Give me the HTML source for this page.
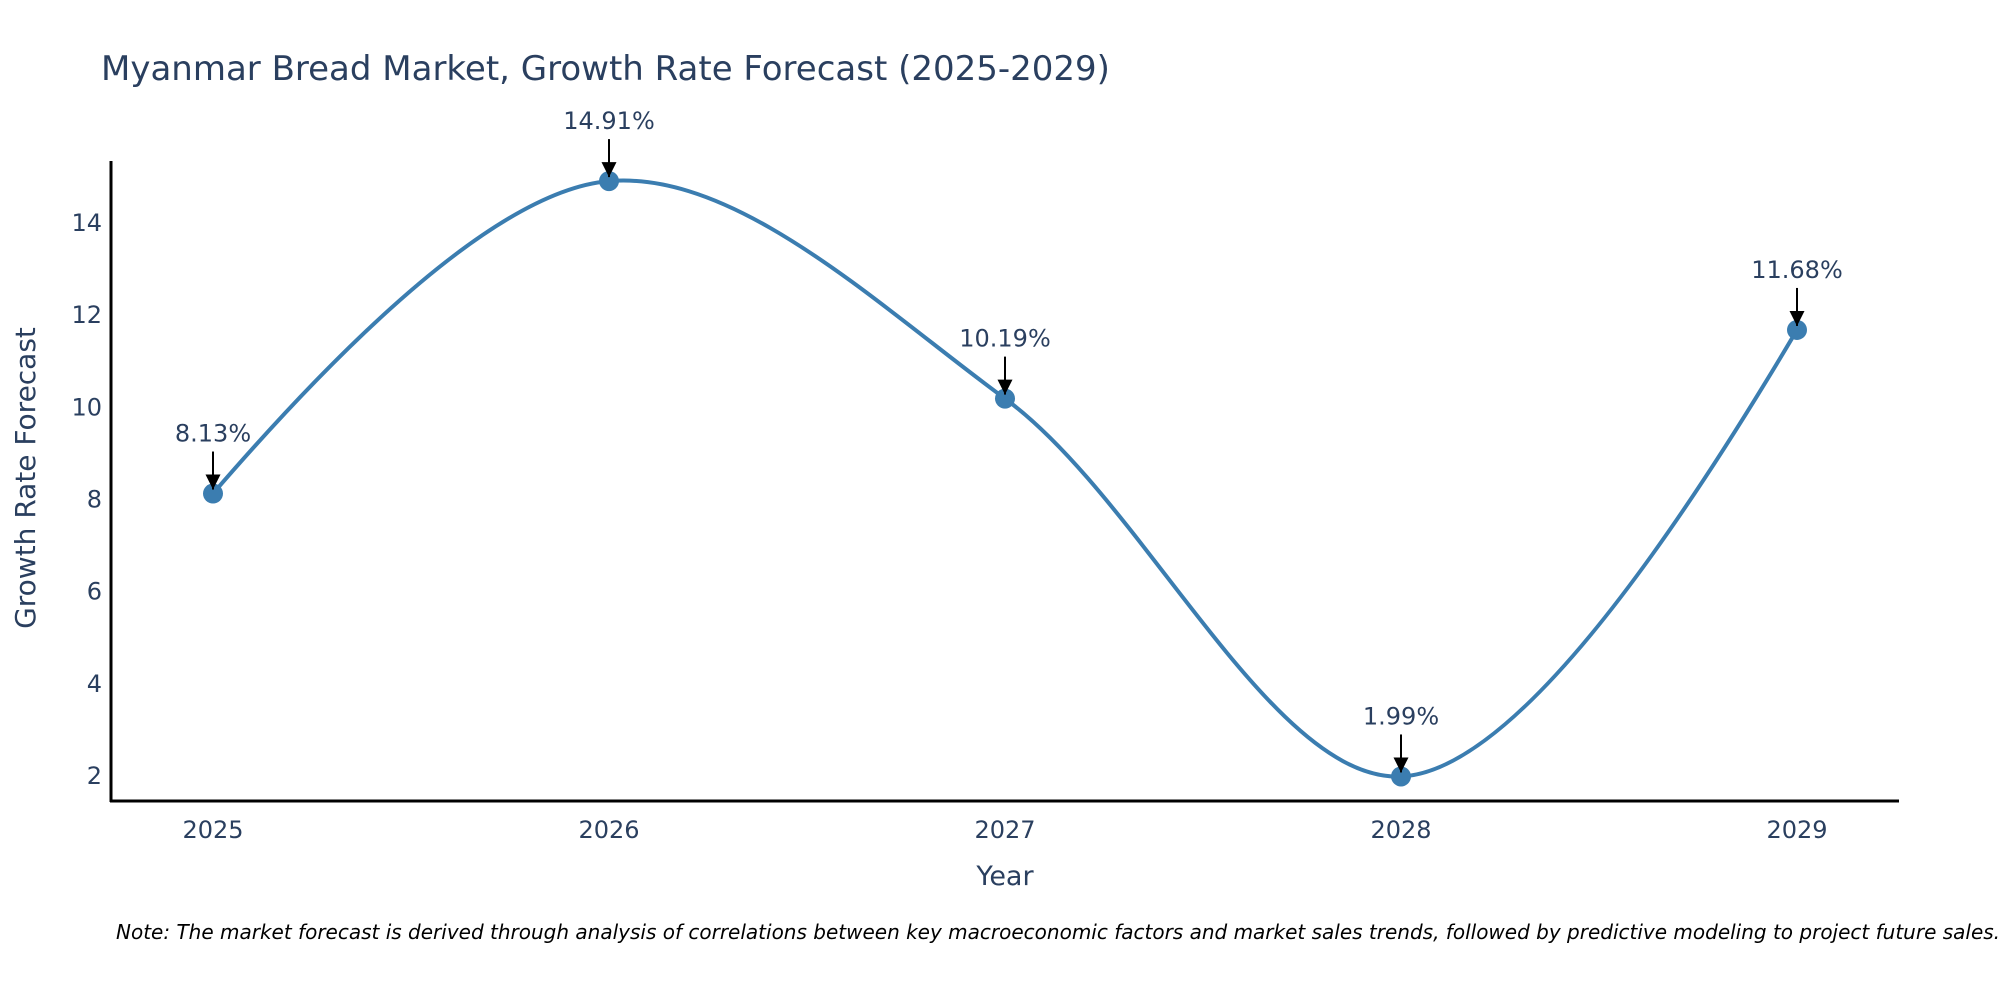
<!DOCTYPE html>
<html><head><meta charset="utf-8"><style>
html,body{margin:0;padding:0;background:#fff;}
svg{display:block;font-family:"DejaVu Sans","Liberation Sans",sans-serif;}
</style></head><body>
<svg id="chart" width="2000" height="1000" viewBox="0 0 2000 1000">
<defs><marker id="ah" viewBox="0 0 10 10" refX="5" refY="10" markerWidth="15" markerHeight="16" orient="0" markerUnits="userSpaceOnUse"><path d="M0,0 L10,0 L5,10 Z" fill="#000"/></marker></defs>
<text x="101" y="80" font-size="34" fill="#2a3f5f">Myanmar Bread Market, Growth Rate Forecast (2025-2029)</text>
<g id="plot"></g>
<line x1="111" y1="161" x2="111" y2="802" stroke="#000" stroke-width="3"/>
<line x1="110" y1="801" x2="1899" y2="801" stroke="#000" stroke-width="3"/>
<text x="1005" y="885" font-size="27" fill="#2a3f5f" text-anchor="middle">Year</text>
<text transform="translate(35,478) rotate(-90)" font-size="28" fill="#2a3f5f" text-anchor="middle">Growth Rate Forecast</text>
<text x="116" y="939" font-size="20" font-style="italic" fill="#000">Note: The market forecast is derived through analysis of correlations between key macroeconomic factors and market sales trends, followed by predictive modeling to project future sales.</text>
</svg>
<script>
const years = ["2025","2026","2027","2028","2029"];
const values = [8.13, 14.91, 10.19, 1.99, 11.68];
const yTicks = [2,4,6,8,10,12,14];
const xPos = i => 213 + i*396;
const yPos = v => 776 - (v-2)*46.08;
const NS="http://www.w3.org/2000/svg";
const g=document.getElementById('plot');
function mk(t,a){const e=document.createElementNS(NS,t);for(const k in a)e.setAttribute(k,a[k]);g.appendChild(e);return e;}
yTicks.forEach(v=>{
  const t=mk('text',{x:102,y:yPos(v)+8,'font-size':24,fill:'#2a3f5f','text-anchor':'end'});
  t.textContent=v;
  
  
});
years.forEach((y,i)=>{
  const t=mk('text',{x:xPos(i),y:838,'font-size':24,fill:'#2a3f5f','text-anchor':'middle'});
  t.textContent=y;
  
  
});
const pts=values.map((v,i)=>[xPos(i),yPos(v)]);
function tangent(p0,p1,p2,sm){
  const d1x=p0[0]-p1[0],d1y=p0[1]-p1[1],d2x=p2[0]-p1[0],d2y=p2[1]-p1[1];
  const d1a=Math.pow(d1x*d1x+d1y*d1y,0.25),d2a=Math.pow(d2x*d2x+d2y*d2y,0.25);
  const nx=(d2a*d2a*d1x-d1a*d1a*d2x)*sm,ny=(d2a*d2a*d1y-d1a*d1a*d2y)*sm;
  const den1=3*d2a*(d1a+d2a),den2=3*d1a*(d1a+d2a);
  return [[p1[0]+nx/den1,p1[1]+ny/den1],[p1[0]-nx/den2,p1[1]-ny/den2]];
}
const tg=[];
for(let i=1;i<pts.length-1;i++)tg.push(tangent(pts[i-1],pts[i],pts[i+1],1));
let d=`M${pts[0]}Q${tg[0][0]} ${pts[1]}`;
for(let i=1;i<pts.length-2;i++)d+=`C${tg[i-1][1]} ${tg[i][0]} ${pts[i+1]}`;
d+=`Q${tg[tg.length-1][1]} ${pts[pts.length-1]}`;
const line=mk('path',{d:d,fill:'none',stroke:'#3b7db0','stroke-width':4});


values.forEach((v,i)=>{
  const c=mk('circle',{cx:xPos(i),cy:yPos(v),r:10,fill:'#3b7db0'});
  
  
  const a=mk('line',{x1:xPos(i),y1:yPos(v)-42,x2:xPos(i),y2:yPos(v)-4,stroke:'#000','stroke-width':2,'marker-end':'url(#ah)'});
  
  
  const t=mk('text',{x:xPos(i),y:yPos(v)-52,'font-size':24,fill:'#2a3f5f','text-anchor':'middle'});
  t.textContent=v.toFixed(2)+'%';
  
  
});
</script>
</body></html>
